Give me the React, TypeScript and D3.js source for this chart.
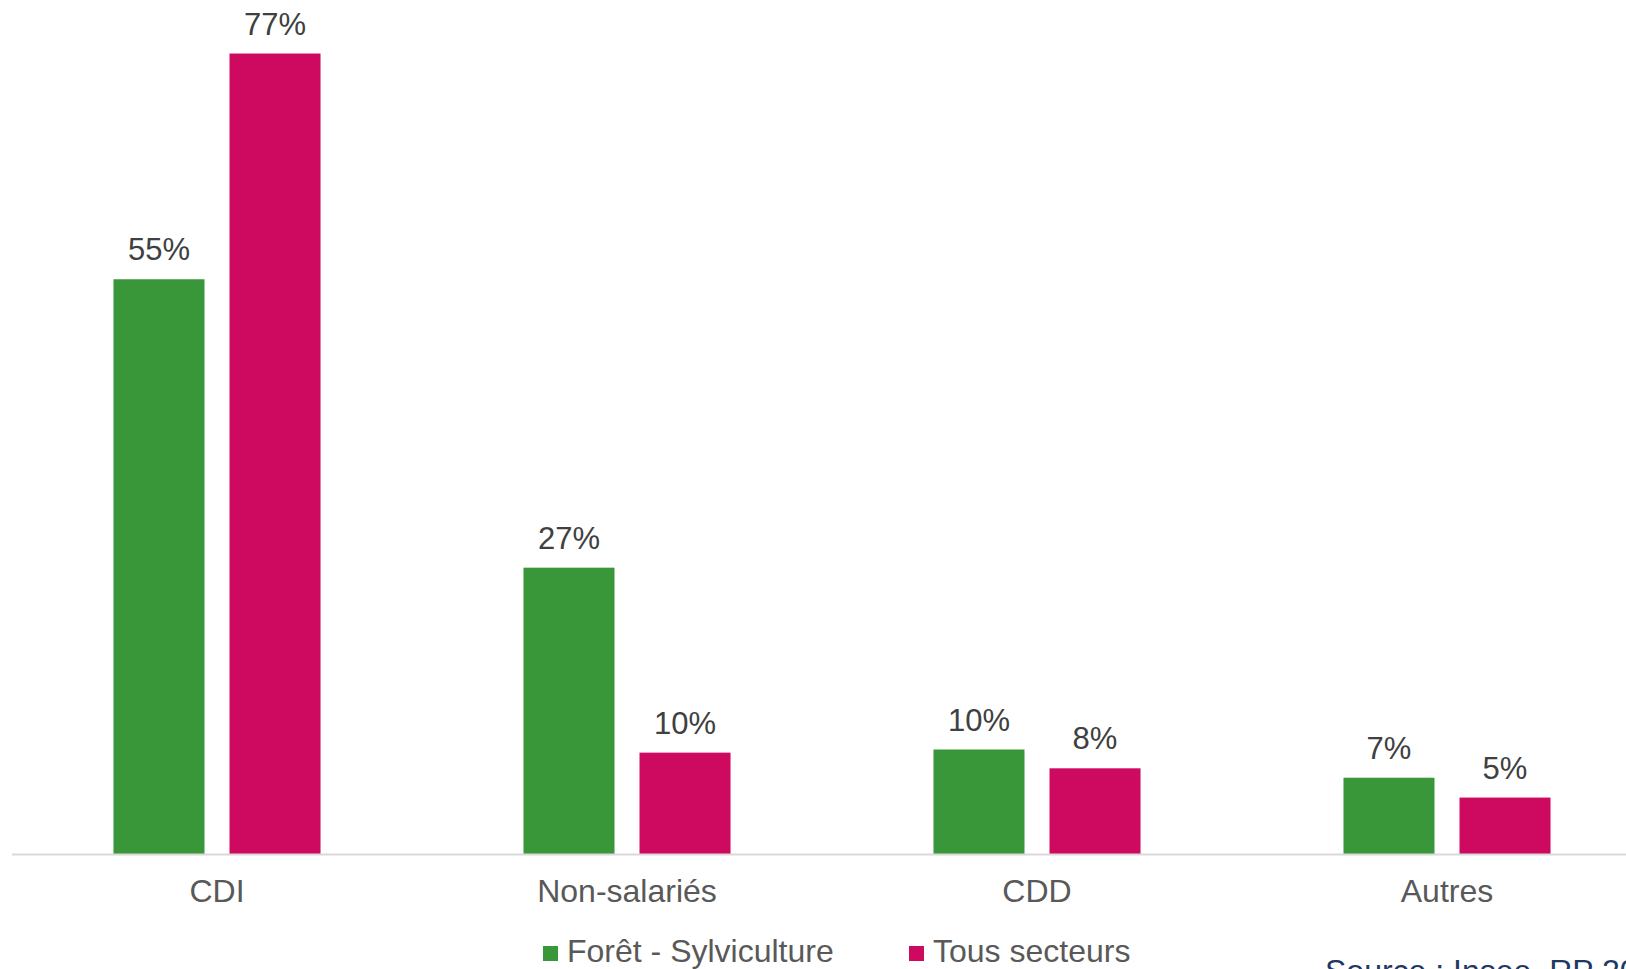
import React from "react";
import * as d3 from "d3";

const categories = ["CDI", "Non-salariés", "CDD", "Autres"];
const seriesNames = ["Forêt - Sylviculture", "Tous secteurs"];
const foretValues = [55.0, 27.4, 10.0, 7.3];
const tousValues = [76.6, 9.7, 8.2, 5.4];
const seriesColors = ["#3A9739", "#CE0960"];
const sourceText = "Source : Insee, RP 2020";

const W = 1626;
const H = 969;
const FONT = "'Liberation Sans', Arial, Helvetica, sans-serif";

export default function App() {
  const baseY = 854;
  const x0 = d3
    .scaleBand<string>()
    .domain(categories)
    .range([12, 1652])
    .paddingInner(0.495)
    .paddingOuter(0.2475);
  const x1 = d3
    .scaleBand<string>()
    .domain(seriesNames)
    .range([0, x0.bandwidth()])
    .paddingInner(0.2155);
  const y = d3.scaleLinear().domain([0, 80]).range([baseY, baseY - 836]);
  const series = [foretValues, tousValues];
  const fmt = (v: number) => `${Math.round(v)}%`;

  const legendItems = [
    { sq: 543, tx: 567 },
    { sq: 909, tx: 933 },
  ];

  return (
    <svg
      width={W}
      height={H}
      style={{ position: "absolute", left: 0, top: 0, background: "#fff" }}
      fontFamily={FONT}
    >
      <rect x={0} y={0} width={W} height={H} fill="#fff" />
      {categories.map((c, ci) => (
        <g key={c} transform={`translate(${x0(c)},0)`}>
          {seriesNames.map((s, si) => {
            const v = series[si][ci];
            const bx = x1(s)!;
            return (
              <g key={s}>
                <rect
                  x={bx}
                  y={y(v)}
                  width={x1.bandwidth()}
                  height={baseY - y(v)}
                  fill={seriesColors[si]}
                />
                <text
                  x={bx + x1.bandwidth() / 2}
                  y={y(v) - 19}
                  textAnchor="middle"
                  fontSize={31}
                  fill="#404040"
                >
                  {fmt(v)}
                </text>
              </g>
            );
          })}
          <text
            x={x0.bandwidth() / 2}
            y={902}
            textAnchor="middle"
            fontSize={32}
            fill="#595959"
          >
            {c}
          </text>
        </g>
      ))}
      <line x1={12} x2={W} y1={baseY + 0.5} y2={baseY + 0.5} stroke="#D9D9D9" strokeWidth={2} />
      {seriesNames.map((s, si) => (
        <g key={s}>
          <rect x={legendItems[si].sq} y={946} width={15} height={15} fill={seriesColors[si]} />
          <text x={legendItems[si].tx} y={962} fontSize={32} fill="#595959">
            {s}
          </text>
        </g>
      ))}
      <text x={1325} y={982} fontSize={32} fill="#1F3864">
        {sourceText}
      </text>
    </svg>
  );
}
